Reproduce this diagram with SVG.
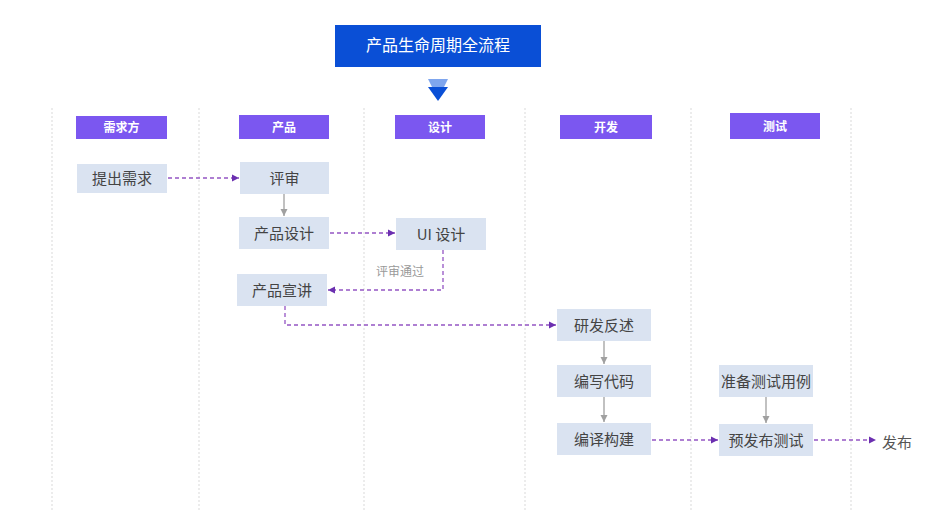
<svg xmlns="http://www.w3.org/2000/svg" width="936" height="512" viewBox="0 0 936 512">
<defs>
<marker id="ap" markerWidth="8" markerHeight="8" refX="7" refY="4" orient="auto" markerUnits="userSpaceOnUse"><path d="M0,0.5 L7,4 L0,7.5 Z" fill="#6b2fb0"/></marker>
<marker id="ag" markerWidth="8" markerHeight="8" refX="7" refY="4" orient="auto" markerUnits="userSpaceOnUse"><path d="M0,0.5 L7,4 L0,7.5 Z" fill="#a0a0a0"/></marker>
<style>
text{font-family:"Noto Sans CJK SC","Noto Sans",sans-serif}
.lane{stroke:#d9d9d9;stroke-width:1;stroke-dasharray:2 2}
.hd rect{fill:#7b57f0}
.hd text{fill:#fff;font-size:12px;font-weight:bold;text-anchor:middle}
.nd rect{fill:#dae3f1}
.nd text{fill:#444;font-size:15px;text-anchor:middle}
.dp{fill:none;stroke:#9455c4;stroke-width:1.3;stroke-dasharray:4 3;marker-end:url(#ap)}
.sg{fill:none;stroke:#a0a0a0;stroke-width:1.3;marker-end:url(#ag)}
</style>
</defs>
<rect width="936" height="512" fill="#fff"/>
<g id="lanes">
<line class="lane" x1="52" y1="108" x2="52" y2="512"/>
<line class="lane" x1="199" y1="108" x2="199" y2="512"/>
<line class="lane" x1="364" y1="108" x2="364" y2="512"/>
<line class="lane" x1="525" y1="108" x2="525" y2="512"/>
<line class="lane" x1="691" y1="108" x2="691" y2="512"/>
<line class="lane" x1="851" y1="108" x2="851" y2="512"/>
</g>
<g id="title">
<rect x="335" y="25" width="206" height="42" fill="#0a4fd6"/>
<text x="438" y="51" fill="#fff" font-size="16" text-anchor="middle">产品生命周期全流程</text>
<path d="M428,79 L448,79 L444,87 L432,87 Z" fill="#7fa6ee"/>
<path d="M428,87 L448,87 L438,101 Z" fill="#0a4fd6"/>
</g>
<g id="h1" class="hd"><rect x="76" y="116" width="91" height="23"/><text x="121.5" y="132">需求方</text></g>
<g id="h2" class="hd"><rect x="239" y="115" width="90" height="24"/><text x="284" y="131.5">产品</text></g>
<g id="h3" class="hd"><rect x="395" y="115" width="90" height="24"/><text x="440" y="131.5">设计</text></g>
<g id="h4" class="hd"><rect x="560" y="115" width="92" height="24"/><text x="606" y="131.5">开发</text></g>
<g id="h5" class="hd"><rect x="730" y="113" width="90" height="26"/><text x="775" y="131">测试</text></g>
<g id="n1" class="nd"><rect x="77" y="164" width="90" height="29"/><text x="122" y="184">提出需求</text></g>
<g id="n2" class="nd"><rect x="240" y="162" width="89" height="32"/><text x="284.5" y="183.5">评审</text></g>
<g id="n3" class="nd"><rect x="239" y="217" width="90" height="32"/><text x="284" y="238.5">产品设计</text></g>
<g id="n4" class="nd"><rect x="396" y="218" width="90" height="32"/><text x="441" y="239.5">UI 设计</text></g>
<g id="n5" class="nd"><rect x="237" y="274" width="90" height="32"/><text x="282" y="295.5">产品宣讲</text></g>
<g id="n6" class="nd"><rect x="557" y="309" width="94" height="32"/><text x="604" y="330.5">研发反述</text></g>
<g id="n7" class="nd"><rect x="557" y="365" width="94" height="32"/><text x="604" y="386.5">编写代码</text></g>
<g id="n8" class="nd"><rect x="557" y="423" width="94" height="32"/><text x="604" y="444.5">编译构建</text></g>
<g id="n9" class="nd"><rect x="719" y="365" width="94" height="32"/><text x="766" y="386.5">准备测试用例</text></g>
<g id="n10" class="nd"><rect x="719" y="424" width="94" height="32"/><text x="766" y="445.5">预发布测试</text></g>
<g id="n11"><text x="897" y="448" fill="#555" font-size="15" text-anchor="middle">发布</text></g>
<g id="connectors">
<path class="dp" d="M168,178 L239,178"/>
<path class="sg" d="M284,194 L284,216"/>
<path class="dp" d="M330,233 L395,233"/>
<path class="dp" d="M443,250 L443,290 L328,290"/>
<text x="400" y="276" fill="#999" font-size="12" text-anchor="middle">评审通过</text>
<path class="dp" d="M285,306 L285,325 L556,325"/>
<path class="sg" d="M604,341 L604,364"/>
<path class="sg" d="M604,397 L604,422"/>
<path class="dp" d="M652,440 L718,440"/>
<path class="sg" d="M766,397 L766,423"/>
<path class="dp" d="M814,440 L876,440"/>
</g>
</svg>
